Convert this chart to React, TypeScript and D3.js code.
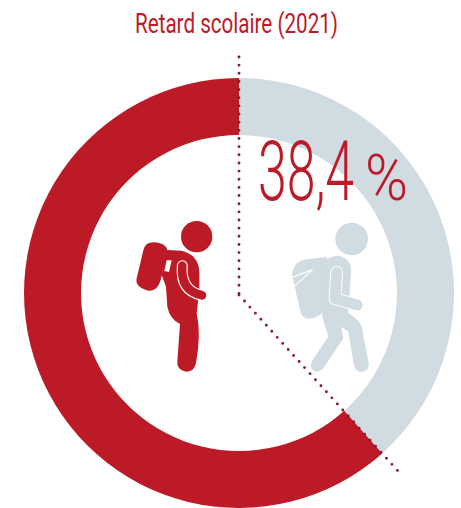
import React from "react";
import * as d3 from "d3";

const title = "Retard scolaire (2021)";
const valueNumber = "38,4";
const valueUnit = "%";
const categories = ["En retard", "Autres"];
const shares = [38.4, 61.6];
const colors = ["#d0dbe2", "#bc1a27"];

const cx = 239;
const cy = 293;
const outerR = 215;
const innerR = 158;
const FONT = "'Roboto', 'Liberation Sans', sans-serif";

function RedPupil() {
  const red = colors[1];
  return (
    <g transform="translate(120,200) scale(0.3333)">
      <circle cx={230} cy={110} r={47} fill={red} />
      <path fill={red} d="M85 130 Q105 122 128 133 Q146 142 141 162 L122 240 Q112 275 85 272 Q44 262 50 235 L68 160 Q72 136 85 130 Z" />
      <path fill={red} d="M140 150 L185 152 Q236 165 238 215 L238 270 L230 340 Q244 400 228 490 Q222 516 198 515 Q170 510 172 485 L180 372 Q150 358 142 320 L138 260 L125 225 Z" />
      <path fill="#fff" d="M140 181 L155 181 L147 216 L133 213 Z" />
      <path fill="none" stroke="#fff" strokeWidth={33} strokeLinecap="round" d="M187 197 Q180 272 246 286" />
      <path fill="none" stroke={red} strokeWidth={26} strokeLinecap="round" d="M187 197 Q180 272 246 286" />
    </g>
  );
}

function GreyPupil() {
  const grey = colors[0];
  return (
    <g transform="translate(270,210) scale(0.3333)">
      <circle cx={245} cy={87} r={49} fill={grey} />
      <path fill={grey} d="M66 195 Q72 152 110 148 L170 141 L175 220 L160 300 Q150 325 115 326 Q95 326 90 300 Z" />
      <path fill="none" stroke="#fff" strokeWidth={3.5} d="M64 203 L128 179 L68 233" />
      <path fill={grey} d="M170 148 Q200 128 228 146 Q246 160 243 190 L235 310 Q270 332 275 350 L296 460 Q298 484 275 486 Q256 486 252 465 L235 365 L214 350 L220 385 L160 475 Q145 492 128 480 Q117 468 128 450 L175 380 L160 330 L152 300 Z" />
      <path fill="none" stroke="#fff" strokeWidth={38} strokeLinecap="round" strokeLinejoin="round" d="M200 187 L195 266 L262 285" />
      <path fill="none" stroke={grey} strokeWidth={32} strokeLinecap="round" strokeLinejoin="round" d="M200 187 L195 266 L262 285" />
    </g>
  );
}

export default function App() {
  const pie = d3.pie<number>().sort(null).value((d) => d);
  const arcs = pie(shares);
  const arc = d3.arc<d3.PieArcDatum<number>>().innerRadius(innerR).outerRadius(outerR);
  const a = arcs[0].endAngle;
  const line = d3.line();
  const dotVertical = line([
    [cx, 57],
    [cx, cy + 2],
  ]) as string;
  const dotDiagonal = line([
    [cx, cy + 2],
    [cx + Math.sin(a) * 240, cy - Math.cos(a) * 240],
  ]) as string;
  const dotProps = {
    fill: "none",
    stroke: "#8c1538",
    strokeWidth: 2.9,
    strokeLinecap: "round" as const,
    strokeDasharray: "0 8.15",
  };

  return (
    <svg
      width={461}
      height={508}
      viewBox="0 0 461 508"
      style={{ position: "absolute", left: 0, top: 0, display: "block" }}
    >
      <title>{categories.join(" / ")}</title>
      <g transform={`translate(${cx},${cy})`}>
        {arcs.map((d, i) => (
          <path key={categories[i]} d={arc(d) as string} fill={colors[i]} />
        ))}
      </g>
      <RedPupil />
      <GreyPupil />
      <text
        x={135}
        y={33}
        fontFamily={FONT}
        fontSize={27}
        fill={colors[1]}
        textLength={203}
        lengthAdjust="spacingAndGlyphs"
      >
        {title}
      </text>
      <text y={200} fontFamily={FONT} fontWeight={300} fontSize={84} fill={colors[1]}>
        <tspan x={258} textLength={96} lengthAdjust="spacingAndGlyphs">
          {valueNumber}
        </tspan>{" "}
        <tspan x={365} fontSize={64} textLength={43} lengthAdjust="spacingAndGlyphs">
          {valueUnit}
        </tspan>
      </text>
      <path d={dotVertical} {...dotProps} />
      <path d={dotDiagonal} {...dotProps} />
    </svg>
  );
}
